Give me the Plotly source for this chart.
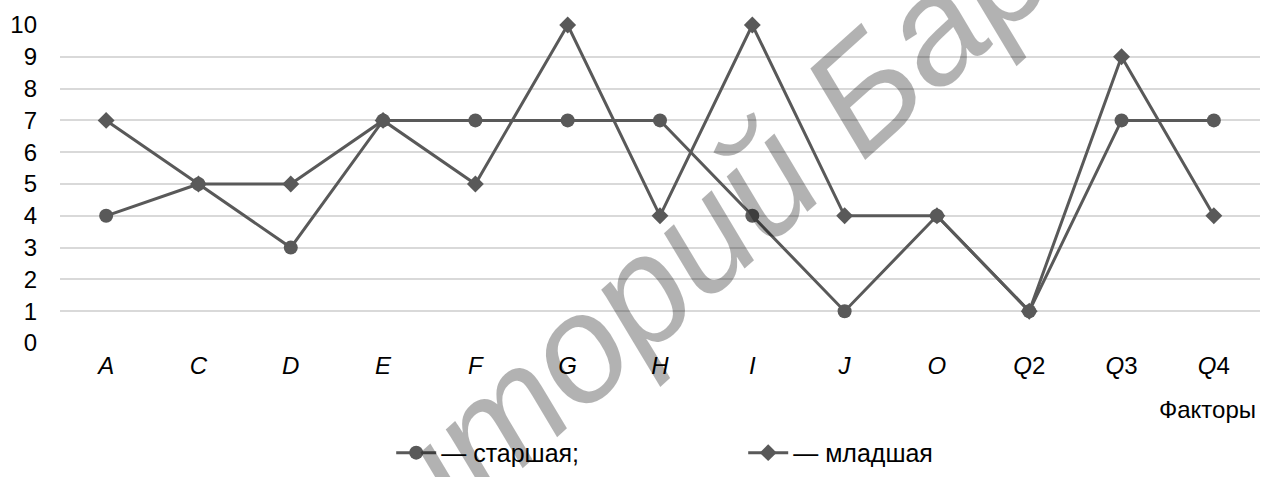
import plotly.graph_objects as go

categories = ["A", "C", "D", "E", "F", "G", "H", "I", "J", "O", "Q2", "Q3", "Q4"]
tick_labels = ["<i>A</i>", "<i>C</i>", "<i>D</i>", "<i>E</i>", "<i>F</i>", "<i>G</i>",
               "<i>H</i>", "<i>I</i>", "<i>J</i>", "<i>O</i>", "<i>Q</i>2", "<i>Q</i>3", "<i>Q</i>4"]
senior = [4, 5, 3, 7, 7, 7, 7, 4, 1, 4, 1, 7, 7]
junior = [7, 5, 5, 7, 5, 10, 4, 10, 4, 4, 1, 9, 4]
y_ticks = list(range(0, 11))

LINE = "#595959"
FONT = "Liberation Sans, Arial, sans-serif"

fig = go.Figure()
fig.add_trace(go.Scatter(
    x=categories, y=senior, mode="lines+markers", name="— старшая;",
    line=dict(color=LINE, width=3),
    marker=dict(symbol="circle", size=14, color=LINE),
    cliponaxis=False,
))
fig.add_trace(go.Scatter(
    x=categories, y=junior, mode="lines+markers", name="— младшая",
    line=dict(color=LINE, width=3),
    marker=dict(symbol="diamond", size=13, color=LINE),
    cliponaxis=False,
))

fig.update_layout(
    width=1261, height=477,
    margin=dict(l=60, r=1, t=25, b=125),
    paper_bgcolor="white", plot_bgcolor="white",
    font=dict(family=FONT, size=24, color="#000000"),
    showlegend=True,
    legend=dict(
        orientation="h", x=0.276, y=-0.3456, xanchor="left", yanchor="middle",
        entrywidth=297, entrywidthmode="pixels",
        font=dict(size=25, color="#000000"),
        itemwidth=40,
    ),
    xaxis=dict(
        type="category", categoryorder="array", categoryarray=categories,
        tickvals=categories, ticktext=tick_labels,
        range=[-0.5, len(categories) - 0.5],
        showgrid=False, zeroline=False, showline=False, ticks="",
        tickfont=dict(size=24, color="#000000"),
        ticklabelstandoff=6,
    ),
    yaxis=dict(
        range=[0, 10], tickvals=y_ticks,
        showgrid=True, gridcolor="#d9d9d9", gridwidth=1.5,
        zeroline=False, showline=False, ticks="",
        tickfont=dict(size=24, color="#000000"),
        ticklabelstandoff=22,
    ),
    annotations=[
        dict(text="Факторы", xref="paper", yref="paper", x=0.9985, y=-0.208,
             xanchor="right", yanchor="middle", showarrow=False,
             font=dict(size=24, color="#000000")),
        dict(text="<i>Репозиторий БарГУ</i>", xref="paper", yref="paper",
             x=0.468, y=0.11, xanchor="center", yanchor="middle",
             showarrow=False, textangle=-42,
             font=dict(size=152, color="rgba(0,0,0,0.3)", family=FONT)),
    ],
)

fig.write_html("out.html", config={"displayModeBar": False},
               post_script="document.body.style.margin='0px';document.body.style.overflow='hidden';")
